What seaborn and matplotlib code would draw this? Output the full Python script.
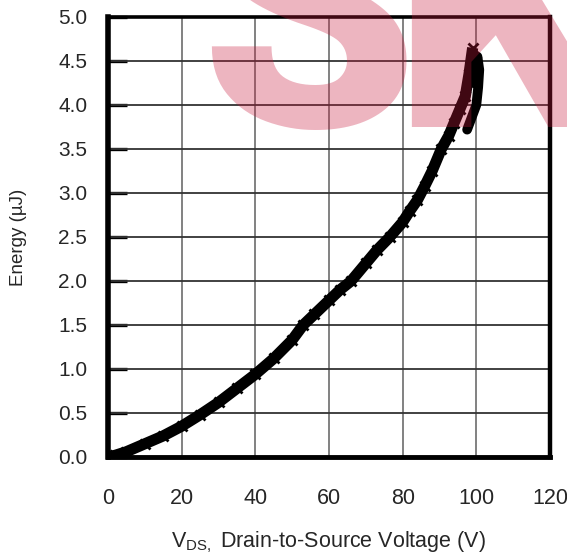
import matplotlib
matplotlib.use("Agg")
import matplotlib.pyplot as plt
import seaborn as sns
import pandas as pd

# Output energy vs drain-to-source voltage (rising sweep)
vds_up = [0, 2, 5, 10, 15, 20, 25, 30, 35, 40, 45, 50, 53, 56, 60, 63, 66, 70,
          73, 76.5, 80, 82, 84, 86, 88, 90.5, 92.5, 94, 95.5, 97, 98, 99]
energy_up = [0.0, 0.02, 0.06, 0.15, 0.24, 0.35, 0.48, 0.62, 0.78, 0.94, 1.12,
             1.33, 1.50, 1.62, 1.78, 1.90, 2.00, 2.20, 2.35, 2.50, 2.67, 2.80,
             2.92, 3.08, 3.25, 3.50, 3.65, 3.80, 3.95, 4.10, 4.35, 4.65]

# Return trace near the top of the sweep
vds_back = [99, 100.3, 100.8, 100.5, 100.0, 99.0, 97.5]
energy_back = [4.65, 4.55, 4.40, 4.20, 4.00, 3.85, 3.72]

x_ticks = [0, 20, 40, 60, 80, 100, 120]
y_ticks = [0.0, 0.5, 1.0, 1.5, 2.0, 2.5, 3.0, 3.5, 4.0, 4.5, 5.0]

up = pd.DataFrame({"vds": vds_up, "energy": energy_up})
back = pd.DataFrame({"vds": vds_back, "energy": energy_back})

sns.set_theme(style="white")
plt.rcParams["font.family"] = ["Liberation Sans", "DejaVu Sans"]

fig = plt.figure(figsize=(5.67, 5.57), dpi=100)
ax = fig.add_axes([108 / 567, 1 - 457 / 557, (550 - 108) / 567, (457 - 17) / 557])

for xv in x_ticks[1:-1]:
    ax.axvline(xv, color="#777777", lw=1.3, zorder=1)
for yv in y_ticks[1:-1]:
    ax.axhline(yv, color="#333333", lw=1.3, zorder=1)

sns.lineplot(data=up, x="vds", y="energy", ax=ax, color="black", lw=8,
             sort=False, marker="x", markersize=7, mew=2, mec="black",
             zorder=3, solid_capstyle="butt")
sns.lineplot(data=back, x="vds", y="energy", ax=ax, color="black", lw=7,
             sort=False, zorder=3)

ax.set_xlim(0, 120)
ax.set_ylim(0, 5.0)
ax.set_xticks(x_ticks)
ax.set_yticks(y_ticks)
ax.set_xticklabels([str(v) for v in x_ticks], fontsize=15.5)
ax.set_yticklabels([f"{v:.1f}" for v in y_ticks], fontsize=15)
ax.tick_params(axis="y", direction="in", length=14, width=2.4, color="black",
               pad=15, left=True)
ax.tick_params(axis="x", length=0, pad=22)

for side, w in {"left": 4, "bottom": 3.5, "right": 3.2, "top": 2.6}.items():
    ax.spines[side].set_visible(True)
    ax.spines[side].set_color("black")
    ax.spines[side].set_linewidth(w)

ax.set_xlabel(r"V$_{\mathregular{DS,}}$ Drain-to-Source Voltage (V)",
              fontsize=15.5, labelpad=15)
ax.set_ylabel("Energy (µJ)", fontsize=13.5, labelpad=22)

# Translucent brand mark across the top of the figure, in a heavy face
mark_style = dict(fontsize=250, fontweight=900, family=["Roboto", "Lato", "Liberation Sans"],
                  color="#C8193C", alpha=0.32, ha="left", va="baseline", zorder=10)
fig.text(200 / 567, 1 - 127 / 557, "S", **mark_style)
fig.text(392 / 567, 1 - 127 / 557, "K", **mark_style)

fig.savefig("out.png", dpi=100)
